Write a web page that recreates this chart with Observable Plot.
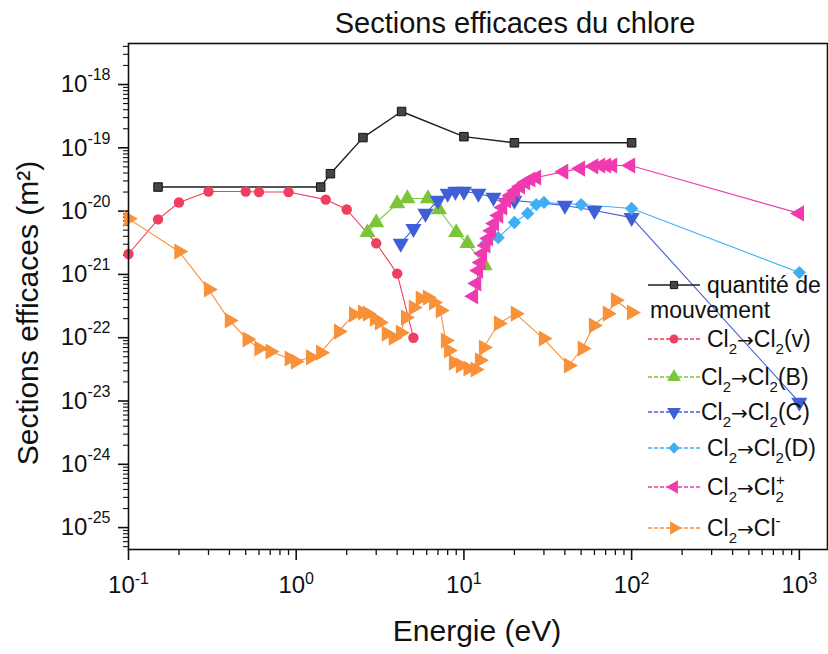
<!DOCTYPE html>
<html><head><meta charset="utf-8">
<script src="https://cdn.jsdelivr.net/npm/d3@7"></script>
<script src="https://cdn.jsdelivr.net/npm/@observablehq/plot@0.6"></script>
<style>
body{margin:0;background:#fff;}
#chart{width:828px;height:654px;overflow:hidden;}
svg{font-family:"Liberation Sans",Arial,sans-serif;}
</style></head><body><div id="chart"></div>
<script>
// ---------- texts ----------
const titleText = "Sections efficaces du chlore";
const xLabelText = "Energie (eV)";
const yLabelText = "Sections efficaces (m²)";

// ---------- tick values ----------
const xMajorTicks = [0.1, 1, 10, 100, 1000];
const yMajorTicks = [1e-18, 1e-19, 1e-20, 1e-21, 1e-22, 1e-23, 1e-24, 1e-25];

// ---------- series (energy eV, cross-section m²) ----------
const momE = [0.15, 1.4, 1.6, 2.5, 4.25, 10, 20, 100];
const momS = [2.4e-20, 2.4e-20, 3.9e-20, 1.45e-19, 3.75e-19, 1.5e-19, 1.2e-19, 1.2e-19];

const vibE = [0.1, 0.15, 0.2, 0.3, 0.5, 0.6, 0.9, 1.5, 2, 3, 4, 5];
const vibS = [2.1e-21, 7.4e-21, 1.37e-20, 2.04e-20, 2.04e-20, 2.0e-20, 2.0e-20, 1.52e-20, 1.06e-20, 3.1e-21, 1.03e-21, 1.0e-22];

const bE = [2.66, 3.0, 4.0, 4.6, 6.1, 7.1, 9.0, 10.5, 13.3];
const bS = [4.6e-21, 6.6e-21, 1.32e-20, 1.58e-20, 1.58e-20, 1.06e-20, 4.6e-21, 3.1e-21, 1.38e-21];

const cE = [4.2, 5, 5.9, 7, 8, 8.9, 10, 12.2, 15, 20, 40, 60, 100, 1000];
const cS = [3.1e-21, 5.3e-21, 9.2e-21, 1.47e-20, 1.9e-20, 2.04e-20, 2.04e-20, 1.9e-20, 1.64e-20, 1.47e-20, 1.23e-20, 1.02e-20, 7.9e-21, 9.5e-24];

const dE = [13.5, 16, 20, 24, 27, 30, 50, 100, 1000];
const dS = [3.1e-21, 3.8e-21, 6.6e-21, 9.2e-21, 1.27e-20, 1.37e-20, 1.27e-20, 1.1e-20, 1.07e-21];

const ionE = [11.4, 11.9, 12.2, 12.6, 12.9, 13.5, 14.0, 14.6, 15.2, 16.1, 17.0, 17.9, 19.0, 20.3, 21.7, 23.3, 25.0, 27.1, 39.3, 49.5, 59.3, 65.3, 70.8, 76.9, 98.5, 1000];
const ionS = [4.5e-22, 7.2e-22, 1.15e-21, 1.54e-21, 2.14e-21, 2.86e-21, 3.7e-21, 4.9e-21, 6.4e-21, 8.5e-21, 1.14e-20, 1.47e-20, 1.76e-20, 2.1e-20, 2.45e-20, 2.83e-20, 3.16e-20, 3.4e-20, 4.2e-20, 4.7e-20, 5.1e-20, 5.25e-20, 5.25e-20, 5.25e-20, 5.25e-20, 9.2e-21];

const attE = [0.1, 0.2, 0.3, 0.4, 0.51, 0.6, 0.7, 0.91, 0.99, 1.22, 1.4, 1.79, 2.2, 2.49, 2.66, 2.93, 3.14, 3.45, 3.8, 4.19, 4.49, 5.0, 5.5, 6.07, 6.6, 7.25, 7.77, 8.1, 8.67, 9.55, 10.6, 11.7, 12.4, 13.1, 16.1, 20.3, 29.8, 42.1, 50.9, 59.3, 71.8, 80.2, 100];
const attS = [7.6e-21, 2.3e-21, 5.8e-22, 1.87e-22, 9.4e-23, 6.75e-23, 6.05e-23, 4.7e-23, 4.2e-23, 4.9e-23, 5.8e-23, 1.25e-22, 2.33e-22, 2.5e-22, 2.4e-22, 2.0e-22, 1.74e-22, 1.16e-22, 1.0e-22, 1.2e-22, 2.08e-22, 3.0e-22, 4.16e-22, 4.3e-22, 3.6e-22, 2.7e-22, 9.0e-23, 6.3e-23, 4.05e-23, 3.64e-23, 3.26e-23, 3.15e-23, 4.4e-23, 7.0e-23, 1.68e-22, 2.4e-22, 9.7e-23, 3.64e-23, 6.75e-23, 1.56e-22, 2.4e-22, 3.9e-22, 2.5e-22];

// legend labels: segments [text, mode] mode: n normal, b subscript, p superscript, a arrow
const legendLabels = [
  [["quantité de","n"]],
  [["Cl","n"],["2","b"],["→","a"],["Cl","n"],["2","b"],["(v)","n"]],
  [["Cl","n"],["2","b"],["→","a"],["Cl","n"],["2","b"],["(B)","n"]],
  [["Cl","n"],["2","b"],["→","a"],["Cl","n"],["2","b"],["(C)","n"]],
  [["Cl","n"],["2","b"],["→","a"],["Cl","n"],["2","b"],["(D)","n"]],
  [["Cl","n"],["2","b"],["→","a"],["Cl","n"],["2","b"],["+","p"]],
  [["Cl","n"],["2","b"],["→","a"],["Cl","n"],["-","p"]]
];
const legendSecondLine = "mouvement";

// ---------- styles ----------
const series = [
  {E: momE, S: momS, color: "#1e1e1e", fill: "#444", stroke: "#111", symbol: "square", rotate: 0, r: 4.8, lw: 1.4},
  {E: vibE, S: vibS, color: "#ef3f5e", fill: "#ef3f5e", stroke: "none", symbol: "circle", rotate: 0, r: 5.2, lw: 1.1},
  {E: bE, S: bS, color: "#7cc53a", fill: "#7cc53a", stroke: "none", symbol: "triangle", rotate: 0, r: 6, lw: 1.1},
  {E: cE, S: cS, color: "#3f5fd6", fill: "#3f5fd6", stroke: "none", symbol: "triangle", rotate: 180, r: 6, lw: 1.1},
  {E: dE, S: dS, color: "#42aef2", fill: "#42aef2", stroke: "none", symbol: "diamond2", rotate: 0, r: 6, lw: 1.1},
  {E: ionE, S: ionS, color: "#f03ab0", fill: "#f03ab0", stroke: "none", symbol: "triangle", rotate: -90, r: 6, lw: 1.1},
  {E: attE, S: attS, color: "#f7913a", fill: "#f7913a", stroke: "none", symbol: "triangle", rotate: 90, r: 6, lw: 1.1}
];

// minor tick positions (log decades)
const xMinor = [];
for (let k = -1; k <= 3; k++) for (let m = 2; m <= 9; m++) { const v = m * 10 ** k; if (v < 1472) xMinor.push(v); }
const yMinor = [];
for (let k = -26; k <= -18; k++) for (let m = 2; m <= 9; m++) { const v = m * 10 ** k; if (v > 10 ** -25.346 && v < 10 ** -17.352) yMinor.push(v); }

const expFmt = d => "10^" + Math.round(Math.log10(d));

const marks = [
  Plot.axisX(xMinor, {tickSize: 6, strokeWidth: 1.3, tickFormat: () => "", label: null}),
  Plot.axisY(yMinor, {tickSize: 5, strokeWidth: 1.1, tickFormat: () => "", label: null}),
  Plot.axisX(xMajorTicks, {tickSize: 11, tickPadding: 15, strokeWidth: 1.6, fontSize: 24, tickFormat: expFmt, label: null}),
  Plot.axisY(yMajorTicks, {tickSize: 10, tickPadding: 8, strokeWidth: 1.6, fontSize: 24, tickFormat: expFmt, label: null}),
];
for (const s of series) {
  const data = s.E.map((e, i) => ({E: e, S: s.S[i]}));
  marks.push(Plot.line(data, {x: "E", y: "S", stroke: s.color, strokeWidth: s.lw}));
}
for (const s of series) {
  const data = s.E.map((e, i) => ({E: e, S: s.S[i]}));
  marks.push(Plot.dot(data, {x: "E", y: "S", symbol: s.symbol, fill: s.fill, stroke: s.stroke, strokeWidth: 1, r: s.r, rotate: s.rotate}));
}
marks.push(Plot.frame({stroke: "#111", strokeWidth: 1.6}));

const svg = Plot.plot({
  width: 828, height: 654,
  marginLeft: 128, marginRight: 1, marginTop: 43, marginBottom: 105,
  x: {type: "log", domain: [0.1, 1472], label: null},
  y: {type: "log", domain: [10 ** -25.346, 10 ** -17.352], label: null},
  style: {fontFamily: "'Liberation Sans', Arial, sans-serif", color: "#111", background: "#fff", overflow: "visible"},
  marks
});
document.getElementById("chart").appendChild(svg);

// superscript tick labels
const S = d3.select(svg);
S.selectAll("text").each(function () {
  const t = this.textContent;
  const m = /^10\^(-?\d+)$/.exec(t);
  if (!m) return;
  const g = this.closest("g");
  const isY = g && (g.getAttribute("aria-label") || "").startsWith("y");
  const sel = d3.select(this);
  sel.text(null);
  sel.append("tspan").text("10");
  sel.append("tspan").attr("font-size", 16).attr("dy", isY ? -12 : -9).text(m[1]);
});

// title & axis labels
S.append("text").attr("x", 515).attr("y", 33).attr("text-anchor", "middle")
  .attr("font-size", 29).attr("fill", "#111").text(titleText);
S.append("text").attr("x", 477).attr("y", 641).attr("text-anchor", "middle")
  .attr("font-size", 30).attr("fill", "#111").text(xLabelText);
S.append("text").attr("transform", "translate(38,313) rotate(-90)").attr("text-anchor", "middle")
  .attr("font-size", 30).attr("fill", "#111").text(yLabelText);

// legend
const leg = S.append("g").attr("font-size", 23).attr("fill", "#111").attr("text-anchor", "start");
const legRows = [285, 339, 377, 412, 448, 487, 528];
const legTextX = [707, 707, 701, 701, 707, 707, 707];
const symMap = {square: d3.symbolSquare, circle: d3.symbolCircle, triangle: d3.symbolTriangle, diamond2: d3.symbolDiamond2};
series.forEach((s, i) => {
  const cy = legRows[i];
  leg.append("line").attr("x1", 648).attr("x2", 700).attr("y1", cy).attr("y2", cy)
    .attr("stroke", s.color).attr("stroke-width", 1.3).attr("stroke-dasharray", i === 0 ? null : "4,2");
  leg.append("path").attr("d", d3.symbol(symMap[s.symbol], Math.PI * (s.r * 0.85) ** 2)())
    .attr("transform", `translate(674,${cy}) rotate(${s.rotate})`)
    .attr("fill", s.fill).attr("stroke", s.stroke === "none" ? null : s.stroke);
  const txt = leg.append("text").attr("x", legTextX[i]).attr("y", cy + 8);
  let shift = 0;
  legendLabels[i].forEach(([t, mode]) => {
    const target = mode === "b" ? 7 : mode === "p" ? -10 : 0;
    const ts = txt.append("tspan").text(t).attr("dy", target - shift);
    if (mode === "b" || mode === "p") ts.attr("font-size", 15);
    if (mode === "a") ts.attr("font-family", "'DejaVu Sans', sans-serif").attr("font-size", 20);
    if (mode === "p" && i === 5) ts.attr("dx", -8);
    shift = target;
  });
});
leg.append("text").attr("x", 650).attr("y", 318).text(legendSecondLine);
</script></body></html>
